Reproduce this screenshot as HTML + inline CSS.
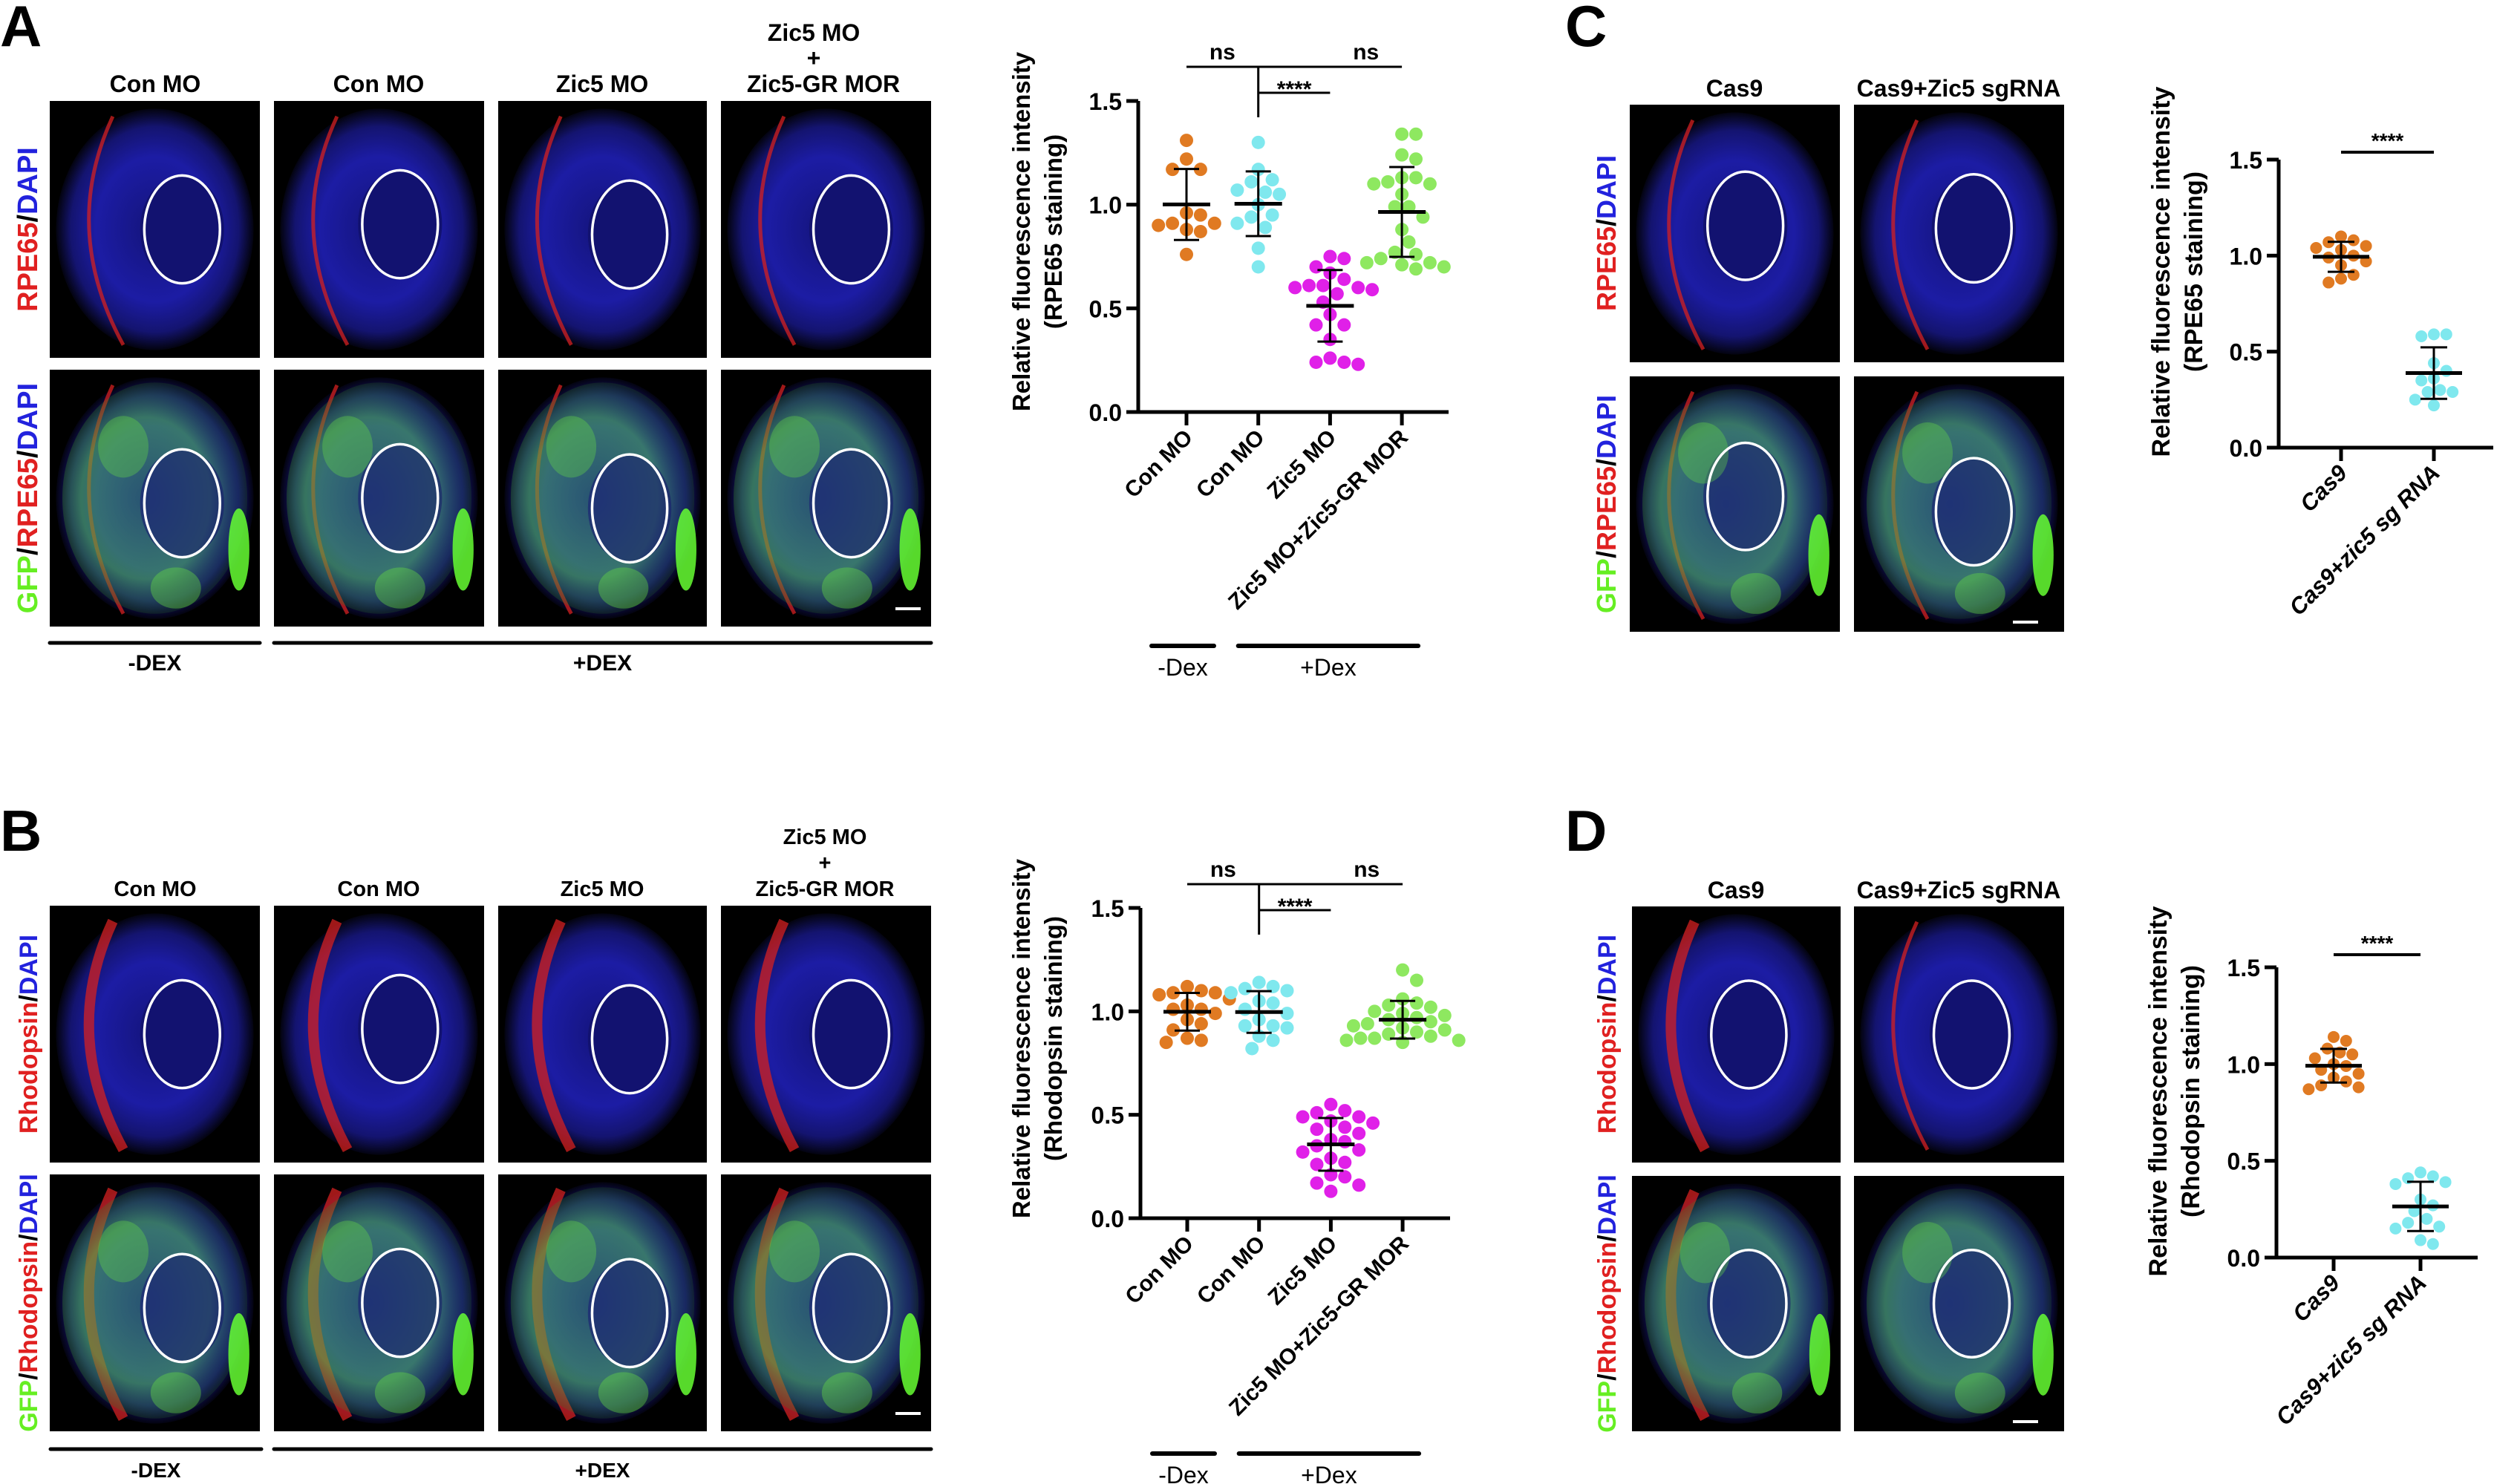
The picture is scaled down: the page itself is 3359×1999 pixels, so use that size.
<!DOCTYPE html>
<html><head><meta charset="utf-8"><style>
html,body{margin:0;padding:0;background:#fff;}
svg{display:block;}
.lbl{font-family:"Liberation Sans",sans-serif;font-weight:bold;}
.nar{font-family:"Liberation Sans Narrow","Liberation Sans",sans-serif;font-weight:bold;}
</style></head><body>
<svg id="fig" width="3359" height="1999" viewBox="0 0 3359 1999" xmlns="http://www.w3.org/2000/svg">
<defs>
<radialGradient id="gBlue" cx="50%" cy="50%" r="50%">
<stop offset="0" stop-color="#14147a"/><stop offset="0.6" stop-color="#1c1ca4"/><stop offset="0.85" stop-color="#141470"/><stop offset="1" stop-color="#03030f"/></radialGradient>
<radialGradient id="gGreen" cx="45%" cy="50%" r="50%">
<stop offset="0" stop-color="#40a060" stop-opacity="0.45"/><stop offset="0.7" stop-color="#50c040" stop-opacity="0.55"/><stop offset="1" stop-color="#2a7a20" stop-opacity="0.2"/></radialGradient>
</defs>
<g id="images"></g>
<g id="charts"></g>
</svg>
<script>
// ---------- chart data ----------
const catsAB = ["Con MO","Con MO","Zic5 MO","Zic5 MO+Zic5-GR MOR"];
const catsCD = ["Cas9","Cas9+zic5 sg RNA"];
const yTicks = [0, 0.5, 1.0, 1.5];
const yTickLabels = ["0.0","0.5","1.0","1.5"];
const colorsAB = ["#e07a22","#7fe8ee","#e020e8","#8ee860"];
const colorsCD = ["#e07a22","#7fe8ee"];
const A_con1 = [1.31,1.22,1.17,1.17,0.96,0.95,0.91,0.90,0.87,0.88,0.91,0.76];
const A_con2 = [1.30,1.17,1.12,1.07,1.11,1.06,1.05,1.00,0.95,0.94,0.89,0.91,0.79,0.70];
const A_zic = [0.75,0.74,0.70,0.67,0.64,0.61,0.60,0.60,0.61,0.59,0.57,0.53,0.47,0.42,0.42,0.35,0.26,0.24,0.23,0.24];
const A_res = [1.34,1.34,1.24,1.22,1.13,1.13,1.11,1.10,1.10,1.05,0.99,0.99,0.94,0.88,0.82,0.77,0.76,0.74,0.72,0.71,0.72,0.70,0.69];
const B_con1 = [1.12,1.10,1.09,1.09,1.08,1.06,1.03,1.01,1.01,0.99,0.96,0.94,0.91,0.87,0.86,0.85];
const B_con2 = [1.14,1.12,1.11,1.10,1.09,1.05,1.04,1.01,0.99,0.96,0.93,0.93,0.92,0.88,0.86,0.82];
const B_zic = [0.55,0.52,0.51,0.49,0.49,0.47,0.46,0.44,0.43,0.41,0.38,0.37,0.35,0.33,0.32,0.29,0.27,0.26,0.21,0.20,0.17,0.16,0.13];
const B_res = [1.20,1.15,1.06,1.04,1.03,1.02,1.00,0.99,0.98,0.97,0.96,0.95,0.94,0.93,0.92,0.91,0.90,0.89,0.88,0.87,0.87,0.86,0.86,0.85];
const C_cas = [1.10,1.08,1.07,1.05,1.04,1.03,1.00,0.99,0.97,0.95,0.90,0.88,0.86];
const C_sg = [0.59,0.59,0.58,0.44,0.40,0.36,0.35,0.30,0.29,0.29,0.25,0.22];
const D_cas = [1.14,1.12,1.08,1.06,1.05,1.03,1.00,0.99,0.97,0.95,0.93,0.91,0.89,0.88,0.87];
const D_sg = [0.44,0.42,0.41,0.39,0.38,0.30,0.27,0.24,0.20,0.18,0.16,0.15,0.09,0.07];

const NS="http://www.w3.org/2000/svg";
const fig=document.getElementById('fig');
function el(tag,attrs,parent,text){const e=document.createElementNS(NS,tag);for(const k in attrs)e.setAttribute(k,attrs[k]);if(text!==undefined)e.textContent=text;(parent||fig).appendChild(e);return e;}

const imgs=document.getElementById('images');
function panelLetter(t,x,y){const e=el('text',{x:x,y:y,'font-size':78,class:'lbl'},imgs,t);

}
panelLetter('A',0,62);panelLetter('B',0,1146);panelLetter('C',2108,62);panelLetter('D',2108,1146);

function micro(x,y,w,h,kind,ex,ey,name){
  const g=el('g',{},imgs);
  
  
  el('rect',{x:x,y:y,width:w,height:h,fill:'#000'},g);
  el('ellipse',{cx:x+w*0.5,cy:y+h*0.5,rx:w*0.47,ry:h*0.47,fill:'url(#gBlue)'},g);
  el('ellipse',{cx:x+w*ex,cy:y+h*ey,rx:w*0.2,ry:h*0.21,fill:'#121270'},g);
  if(kind.indexOf('red')>=0){
    el('path',{d:`M${x+w*0.3} ${y+h*0.06} Q${x+w*0.05} ${y+h*0.5} ${x+w*0.35} ${y+h*0.95}`,stroke:'#d42020','stroke-width':kind.indexOf('rho')>=0?14:5,fill:'none',opacity:0.75},g);
  }
  if(kind.indexOf('gfp')>=0){
    el('ellipse',{cx:x+w*0.5,cy:y+h*0.5,rx:w*0.44,ry:h*0.45,fill:'url(#gGreen)'},g);
    el('ellipse',{cx:x+w*ex,cy:y+h*ey,rx:w*0.2,ry:h*0.21,fill:'#1a1a80',opacity:0.55},g);
    el('ellipse',{cx:x+w*0.9,cy:y+h*0.7,rx:w*0.05,ry:h*0.16,fill:'#66ff33',opacity:0.85},g);
    el('ellipse',{cx:x+w*0.35,cy:y+h*0.3,rx:w*0.12,ry:h*0.12,fill:'#66dd44',opacity:0.35},g);
    el('ellipse',{cx:x+w*0.6,cy:y+h*0.85,rx:w*0.12,ry:h*0.08,fill:'#66dd44',opacity:0.4},g);
  }
  el('ellipse',{cx:x+w*ex,cy:y+h*ey,rx:w*0.18,ry:h*0.21,fill:'none',stroke:'#fff','stroke-width':3.5},g);
}
function rowLabel(x,cy,parts,fs){
  const t=el('text',{transform:`translate(${x},${cy}) rotate(-90)`,'text-anchor':'middle','font-size':fs,class:'lbl'},imgs);
  
  
  parts.forEach(p=>{el('tspan',{fill:p[1]},t,p[0]);});
}
function colLabel(x,y,t,cls,fs){const e=el('text',{x:x,y:y,'text-anchor':'middle','font-size':fs,class:cls},imgs,t);

}

const colsAB=[[67,283],[369,283],[671,281],[971,283]];
const exA=[[0.63,0.5],[0.6,0.48],[0.63,0.52],[0.62,0.5]];
function panelAB(mark,rowTop,name){
  const rows=[[rowTop,346],[rowTop+362,346]];
  colsAB.forEach((c,i)=>{
    micro(c[0],rows[0][0],c[1],rows[0][1],mark,exA[i][0],exA[i][1],name+'-image-r1-c'+(i+1));
    micro(c[0],rows[1][0],c[1],rows[1][1],'gfp '+mark,exA[i][0],exA[i][1]+0.02,name+'-image-r2-c'+(i+1));
  });
  const sb=el('line',{x1:1206,y1:rows[1][0]+322,x2:1240,y2:rows[1][0]+322,stroke:'#fff','stroke-width':4},imgs);
  
  
}
panelAB('red',136,'a');
panelAB('red rho',1220,'b');
colLabel(209,124,'Con MO','nar',32);colLabel(510,124,'Con MO','nar',32);colLabel(811,124,'Zic5 MO','nar',32);
colLabel(1096,55,'Zic5 MO','nar',32);colLabel(1096,89,'+','nar',32);colLabel(1109,124,'Zic5-GR MOR','nar',32);
colLabel(209,1207,'Con MO','lbl',29);colLabel(510,1207,'Con MO','lbl',29);colLabel(811,1207,'Zic5 MO','lbl',29);
colLabel(1111,1137,'Zic5 MO','lbl',29);colLabel(1111,1172,'+','lbl',29);colLabel(1111,1207,'Zic5-GR MOR','lbl',29);
rowLabel(50,309,[['RPE65','#e02020'],['/','#000'],['DAPI','#2222dd']],38);
rowLabel(50,671,[['GFP','#66ee22'],['/','#000'],['RPE65','#e02020'],['/','#000'],['DAPI','#2222dd']],38);
rowLabel(50,1393,[['Rhodopsin','#e02020'],['/','#000'],['DAPI','#2222dd']],34);
rowLabel(50,1755,[['GFP','#66ee22'],['/','#000'],['Rhodopsin','#e02020'],['/','#000'],['DAPI','#2222dd']],34);
function dexBar(x1,x2,y,ty,t,cls,fs,sw,name){
  const l=el('line',{x1:x1,y1:y,x2:x2,y2:y,stroke:'#000','stroke-width':sw,'stroke-linecap':'round'},imgs);
  
  
  const tx=el('text',{x:(x1+x2)/2,y:ty,'text-anchor':'middle','font-size':fs,class:cls},imgs,t);
  
  
}
dexBar(67,350,866,903,'-DEX','nar',30,5,'minus-dex');
dexBar(369,1254,866,903,'+DEX','nar',30,5,'plus-dex');
dexBar(68,352,1952,1990,'-DEX','lbl',28,5,'minus-dex-b');
dexBar(369,1254,1952,1990,'+DEX','lbl',28,5,'plus-dex-b');

micro(2195,141,283,347,'red',0.55,0.47,'c-image-r1-c1');
micro(2497,141,283,347,'red',0.57,0.48,'c-image-r1-c2');
micro(2195,507,283,344,'gfp red',0.55,0.47,'c-image-r2-c1');
micro(2497,507,283,344,'gfp red',0.57,0.53,'c-image-r2-c2');
micro(2198,1221,281,345,'red rho',0.56,0.5,'d-image-r1-c1');
micro(2497,1221,283,345,'red',0.56,0.5,'d-image-r1-c2');
micro(2198,1584,281,344,'gfp red rho',0.56,0.5,'d-image-r2-c1');
micro(2497,1584,283,344,'gfp',0.56,0.5,'d-image-r2-c2');
[[2745,838],[2745,1915]].forEach(p=>{const s=el('line',{x1:p[0]-34,y1:p[1],x2:p[0],y2:p[1],stroke:'#fff','stroke-width':4},imgs);

});
colLabel(2336,130,'Cas9','nar',32);colLabel(2638,130,'Cas9+Zic5 sgRNA','nar',32);
colLabel(2338,1210,'Cas9','nar',32);colLabel(2638,1210,'Cas9+Zic5 sgRNA','nar',32);
rowLabel(2176,314,[['RPE65','#e02020'],['/','#000'],['DAPI','#2222dd']],36);
rowLabel(2176,679,[['GFP','#66ee22'],['/','#000'],['RPE65','#e02020'],['/','#000'],['DAPI','#2222dd']],36);
rowLabel(2176,1393,[['Rhodopsin','#e02020'],['/','#000'],['DAPI','#2222dd']],34);
rowLabel(2176,1756,[['GFP','#66ee22'],['/','#000'],['Rhodopsin','#e02020'],['/','#000'],['DAPI','#2222dd']],34);

const charts=document.getElementById('charts');
function mean(a){return a.reduce((s,v)=>s+v,0)/a.length;}
function sd(a){const m=mean(a);return Math.sqrt(a.reduce((s,v)=>s+(v-m)*(v-m),0)/(a.length-1));}
function drawChart(o){
  const g=el('g',{},charts);
  
  
  const y=v=>o.y0-(v/1.5)*(o.y0-o.y15);
  const x=i=>o.cx0+i*o.dx;
  const ya=el('line',{x1:o.ax,y1:o.y15,x2:o.ax,y2:o.y0+2.5,stroke:'#000','stroke-width':5},g);
  
  
  const xa=el('line',{x1:o.ax-2.5,y1:o.y0,x2:o.axEnd,y2:o.y0,stroke:'#000','stroke-width':5},g);
  
  
  yTicks.forEach((t,i)=>{
    el('line',{x1:o.ax-16,y1:y(t),x2:o.ax,y2:y(t),stroke:'#000','stroke-width':5},g);
    const tl=el('text',{x:o.ax-22,y:y(t)+12,'text-anchor':'end','font-size':o.tfs,class:'lbl'},g,yTickLabels[i]);
    
    
  });
  o.cats.forEach((c,i)=>{
    el('line',{x1:x(i),y1:o.y0,x2:x(i),y2:o.y0+18,stroke:'#000','stroke-width':5},g);
    const t=el('text',{transform:`translate(${x(i)+10},${o.y0+36}) rotate(-45)`,'text-anchor':'end','font-size':o.xfs,class:'lbl','font-style':o.italic?'italic':'normal'},g,c);
    
    
  });
  const tt=el('text',{transform:`translate(${o.titleX},${o.titleY}) rotate(-90)`,'text-anchor':'middle','font-size':o.tifs,class:'lbl'},g);
  
  
  el('tspan',{x:0,dy:0},tt,'Relative fluorescence intensity');
  el('tspan',{x:0,dy:o.tifs*1.3},tt,o.sub);
  const r=o.r;
  o.series.forEach((s,i)=>{
    const placed=[];
    const sorted=s.slice().sort((a,b)=>b-a);
    sorted.forEach(v=>{
      const py=y(v);let off=0;
      for(let k=0;k<40;k++){
        const cand=(k===0)?0:((k%2?1:-1)*Math.ceil(k/2)*r*1.05);
        if(placed.every(p=>Math.hypot(p[0]-cand,p[1]-py)>=2*r*0.98)){off=cand;break;}
      }
      placed.push([off,py]);
      const d=el('circle',{cx:x(i)+off,cy:py,r:r,fill:o.colors[i]},g);
      
      
    });
    const m=mean(s),sdv=sd(s);
    const ml=el('line',{x1:x(i)-o.mw,y1:y(m),x2:x(i)+o.mw,y2:y(m),stroke:'#000','stroke-width':5},g);
    
    
    const eb=el('path',{d:`M${x(i)} ${y(m+sdv)}V${y(m-sdv)}M${x(i)-o.cw} ${y(m+sdv)}H${x(i)+o.cw}M${x(i)-o.cw} ${y(m-sdv)}H${x(i)+o.cw}`,stroke:'#000','stroke-width':3,fill:'none'},g);
    
    
  });
  if(o.cats.length===4){
    const s=el('path',{d:`M${x(0)} ${o.sigY}H${x(3)}M${x(1)} ${o.sigY}V${o.sigY+68}M${x(1)} ${o.sigY+35}H${x(2)}`,stroke:'#000','stroke-width':3,fill:'none'},g);
    
    
    [[ (x(0)+x(1))/2,'ns'],[(x(2)+x(3))/2,'ns']].forEach(p=>{const t=el('text',{x:p[0],y:o.sigY-10,'text-anchor':'middle','font-size':30,class:'lbl','font-weight':'normal'},g,p[1]);
    
    });
    const st=el('text',{x:(x(1)+x(2))/2,y:o.sigY+40,'text-anchor':'middle','font-size':30,class:'lbl'},g,'****');
    
    
    dexBar2(g,x(0)-47,x(0)+37,o.dexY,'-Dex');
    dexBar2(g,x(1)-27,x(3)+22,o.dexY,'+Dex');
  } else {
    const s=el('line',{x1:x(0),y1:o.sigY,x2:x(1),y2:o.sigY,stroke:'#000','stroke-width':4},g);
    
    
    const st=el('text',{x:(x(0)+x(1))/2,y:o.sigY-6,'text-anchor':'middle','font-size':28,class:'lbl'},g,'****');
    
    
  }
}
function dexBar2(g,x1,x2,y,t){
  const l=el('line',{x1:x1,y1:y,x2:x2,y2:y,stroke:'#000','stroke-width':6,'stroke-linecap':'round'},g);
  
  
  const tx=el('text',{x:(x1+x2)/2,y:y+40,'text-anchor':'middle','font-size':32,'font-family':'Liberation Sans, sans-serif'},g,t);
  
  
}
drawChart({name:'chart-a',cats:catsAB,series:[A_con1,A_con2,A_zic,A_res],colors:colorsAB,ax:1533,axEnd:1951,y0:555,y15:136,cx0:1598,dx:96.7,r:9,mw:32,cw:17,tfs:32,xfs:30,tifs:33,titleX:1387,titleY:312,sub:'(RPE65 staining)',sigY:90,dexY:870});
drawChart({name:'chart-b',cats:catsAB,series:[B_con1,B_con2,B_zic,B_res],colors:colorsAB,ax:1536,axEnd:1953,y0:1641,y15:1223,cx0:1599,dx:96.7,r:9,mw:32,cw:17,tfs:32,xfs:30,tifs:33,titleX:1387,titleY:1399,sub:'(Rhodopsin staining)',sigY:1191,dexY:1958});
drawChart({name:'chart-c',cats:catsCD,series:[C_cas,C_sg],colors:colorsCD,ax:3069,axEnd:3358,y0:603,y15:215,cx0:3153,dx:125,r:8,mw:38,cw:18,tfs:32,xfs:31,tifs:34,titleX:2922,titleY:366,sub:'(RPE65 staining)',sigY:205,italic:true});
drawChart({name:'chart-d',cats:catsCD,series:[D_cas,D_sg],colors:colorsCD,ax:3066,axEnd:3337,y0:1694,y15:1303,cx0:3143,dx:117,r:8,mw:38,cw:18,tfs:32,xfs:31,tifs:34,titleX:2918,titleY:1470,sub:'(Rhodopsin staining)',sigY:1286,italic:true});
</script>
</body></html>
